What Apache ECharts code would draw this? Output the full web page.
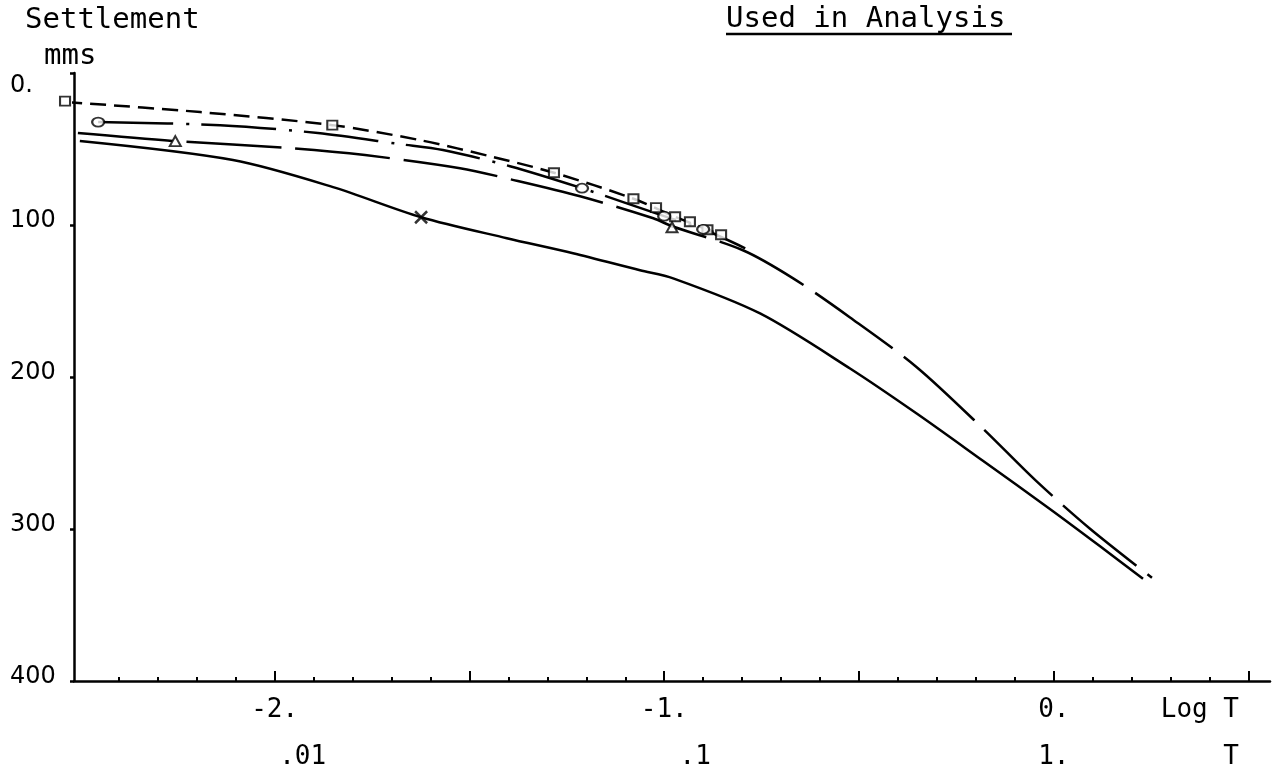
<!DOCTYPE html>
<html><head><meta charset="utf-8">
<script src="https://cdn.jsdelivr.net/npm/echarts@6/dist/echarts.min.js"></script>
<style>html,body{margin:0;padding:0;background:#fff}#c{width:1285px;height:770px}</style>
</head><body><div id="c"></div>
<script>
// ---- data (x = log10 T, y = settlement in mm) ----
// Curve A: short dashes, square markers
const curveA = [[-2.535,19.1],[-2.191,25.7],[-1.852,34.3],[-1.626,44.2],[-1.437,55.4],[-1.283,65.6],[-1.079,82.7],[-0.972,94.6],[-0.854,106.4]];
const marksA = [[-2.538,18.5],[-1.852,34.3],[-1.283,65.6],[-1.079,82.7],[-1.021,88.6],[-0.972,94.6],[-0.934,97.9],[-0.889,103.1],[-0.854,106.4]];
// Curve B: dash-dot, circle markers
const curveB = [[-2.453,32.3],[-2.140,34.3],[-1.889,39.5],[-1.678,46.8],[-1.568,50.7],[-1.396,61.3],[-1.211,75.8],[-1.000,94.2],[-0.900,102.8],[-0.792,115.3]];
const marksB = [[-2.453,32.3],[-1.211,75.8],[-1.000,94.2],[-0.900,102.8]];
// Curve C: long dashes, triangle markers
const curveC = [[-2.505,39.5],[-2.255,44.8],[-1.960,49.4],[-1.768,54.0],[-1.524,62.6],[-1.395,69.9],[-1.216,81.1],[-1.028,95.6],[-0.980,100.8],[-0.798,116.6],[-0.669,135.1],[-0.523,160.8],[-0.351,193.7],[-0.182,233.9],[-0.046,268.2],[0.093,299.8],[0.252,332.1]];
const marksC = [[-2.255,44.8],[-0.980,101.5]];
// Curve D: solid, cross marker
const curveD = [[-2.500,44.8],[-2.107,57.3],[-1.850,75.1],[-1.624,94.9],[-1.404,108.7],[-1.234,118.6],[-1.062,129.8],[-0.977,135.1],[-0.754,158.2],[-0.523,194.4],[-0.351,224.2],[-0.182,255.1],[-0.010,286.8],[0.118,311.2],[0.229,332.8]];
const marksD = [[-1.624,94.9]];
// axis labels
const logTicks = [-2, -1, 0];
const logLabels = ['-2.', '-1.', '0.'];
const timeLabels = ['.01', '.1', '1.'];
const majorTicks = [-2, -1.5, -1, -0.5, 0, 0.5];
const minorTicks = [];
for (let i = -24; i <= 5; i++) minorTicks.push(i / 10);
const logName = 'Log T', timeName = '    T', namePos = 0.375;

const MONO = 'DejaVu Sans Mono';
const chart = echarts.init(document.getElementById('c'), null, {renderer: 'canvas'});
const near = (a, b) => Math.abs(a - b) < 1e-6;
const lineBase = {type: 'line', xAxisIndex: 0, showSymbol: false, smooth: 0.3, clip: false, silent: true, z: 3};
const markBase = {type: 'scatter', xAxisIndex: 0, clip: false, silent: true, z: 5,
  itemStyle: {color: '#fff', borderColor: '#000', borderWidth: 2}};
const titleStyle = {fontFamily: MONO, fontSize: 29, fontWeight: 'normal', color: '#000'};

chart.setOption({
  animation: false,
  backgroundColor: '#fff',
  title: [
    {text: 'Settlement', left: 25, top: 6, padding: 0, textStyle: titleStyle},
    {text: 'mms', left: 44, top: 42, padding: 0, textStyle: titleStyle},
    {text: 'Used in Analysis', left: 726, top: 5, padding: 0, textStyle: titleStyle}
  ],
  graphic: [{type: 'line', shape: {x1: 726, y1: 34, x2: 1012, y2: 34}, style: {stroke: '#000', lineWidth: 2.5}}],
  grid: {left: 74, right: 15, top: 73, bottom: 89, containLabel: false, outerBoundsMode: 'none'},
  xAxis: [
    {type: 'value', position: 'bottom', min: -2.515, max: 0.555,
     axisLine: {onZero: false, lineStyle: {color: '#000', width: 2.5}},
     axisTick: {show: true, inside: true, length: 10, customValues: majorTicks, lineStyle: {color: '#000', width: 2}},
     splitLine: {show: false},
     axisLabel: {customValues: logTicks.concat([namePos]), margin: 16, fontFamily: MONO, fontSize: 26, color: '#000',
       formatter: v => { if (near(v, namePos)) return logName; const i = logTicks.findIndex(t => near(t, v)); return i >= 0 ? logLabels[i] : ''; }}},
    {type: 'value', position: 'bottom', min: -2.515, max: 0.555,
     axisLine: {show: false, onZero: false},
     axisTick: {show: true, inside: true, length: 4, customValues: minorTicks, lineStyle: {color: '#000', width: 2}},
     splitLine: {show: false},
     axisLabel: {customValues: logTicks.concat([namePos]), margin: 63, fontFamily: MONO, fontSize: 26, color: '#000',
       formatter: v => { if (near(v, namePos)) return '{t|' + timeName + '}'; const i = logTicks.findIndex(t => near(t, v)); return i >= 0 ? '{s' + i + '|' + timeLabels[i] + '}' : ''; },
       rich: {
         t: {fontFamily: MONO, fontSize: 26, color: '#000'},
         s0: {fontFamily: MONO, fontSize: 26, color: '#000', padding: [0, 0, 0, 56]},
         s1: {fontFamily: MONO, fontSize: 26, color: '#000', padding: [0, 0, 0, 62]},
         s2: {fontFamily: MONO, fontSize: 26, color: '#000'}
       }}}
  ],
  yAxis: {type: 'value', inverse: true, min: 0, max: 400, interval: 100,
    axisLine: {show: true, onZero: false, lineStyle: {color: '#000', width: 2.5}},
    axisTick: {show: true, length: 4, lineStyle: {color: '#000', width: 2.5}},
    splitLine: {show: false},
    axisLabel: {align: 'left', margin: 64, fontFamily: 'DejaVu Sans', fontSize: 24, color: '#000',
      formatter: v => v === 0 ? '{z|0.}' : '{n|' + v + '}',
      rich: {
        z: {fontFamily: 'DejaVu Sans', fontSize: 24, color: '#000', padding: [26, 0, 0, 0]},
        n: {fontFamily: 'DejaVu Sans', fontSize: 24, color: '#000', padding: [0, 0, 8, 0]}
      }}},
  series: [
    Object.assign({}, lineBase, {name: 'A', data: curveA, lineStyle: {color: '#000', width: 2.5, type: [16, 8]}}),
    Object.assign({}, markBase, {name: 'A marks', data: marksA, symbol: 'rect', symbolSize: [10, 9]}),
    Object.assign({}, lineBase, {name: 'B', data: curveB, lineStyle: {color: '#000', width: 2.5, type: [75, 13, 3, 12]}}),
    Object.assign({}, markBase, {name: 'B marks', data: marksB, symbol: 'circle', symbolSize: [12, 9]}),
    Object.assign({}, lineBase, {name: 'C', data: curveC, lineStyle: {color: '#000', width: 2.5, type: [95, 14]}}),
    Object.assign({}, markBase, {name: 'C marks', data: marksC, symbol: 'triangle', symbolSize: [11, 10]}),
    Object.assign({}, lineBase, {name: 'D', data: curveD, lineStyle: {color: '#000', width: 2.5, type: 'solid'}}),
    Object.assign({}, markBase, {name: 'D marks', data: marksD, symbol: 'path://M0,0L10,10M10,0L0,10', symbolSize: 12,
      itemStyle: {color: 'none', borderColor: '#000', borderWidth: 2.5}})
  ]
});
</script></body></html>
